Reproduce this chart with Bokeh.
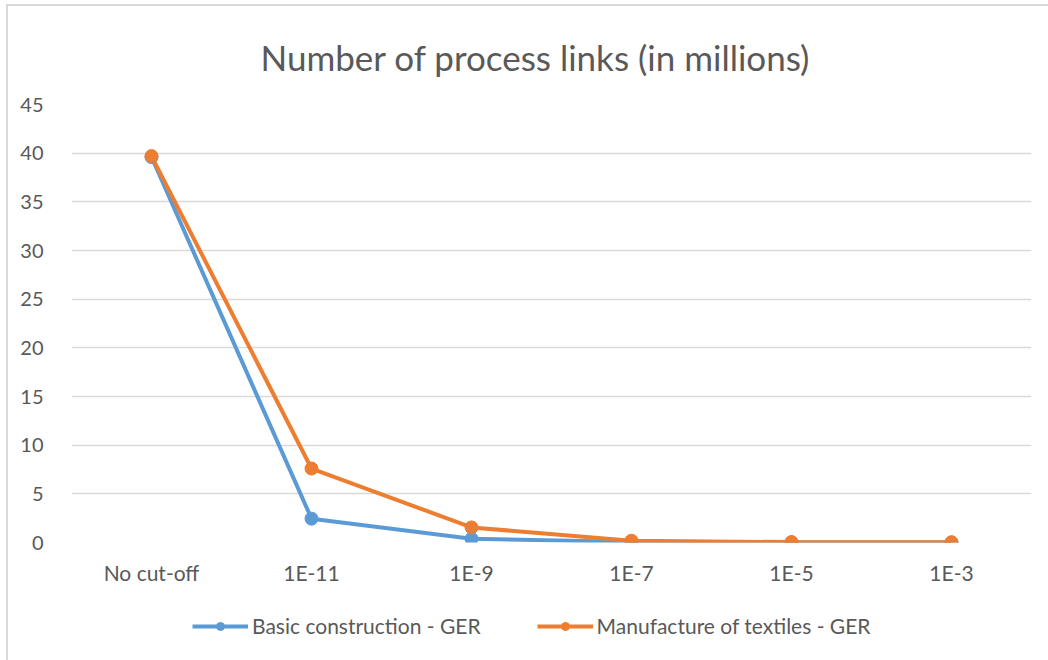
from bokeh.plotting import figure
from bokeh.layouts import column
from bokeh.models import Legend, LegendItem, FactorRange, Range1d
from bokeh.embed import file_html
from bokeh.resources import INLINE

# Cut-off thresholds and process link counts (millions)
categories = ["No cut-off", "1E-11", "1E-9", "1E-7", "1E-5", "1E-3"]
basic_construction = [39.6, 2.45, 0.38, 0.06, 0.02, 0.01]
textiles = [39.7, 7.6, 1.55, 0.18, 0.04, 0.02]
y_ticks = [0, 5, 10, 15, 20, 25, 30, 35, 40, 45]
series_names = ["Basic construction - GER", "Manufacture of textiles - GER"]

FONT = "Lato"
TEXT = "#595959"
GRID = "#d9d9d9"
BLUE = "#5b9bd5"
ORANGE = "#ed7d31"

p = figure(
    x_range=FactorRange(*categories, range_padding=0),
    y_range=Range1d(0, 45),
    width=1040, height=594,
    output_backend="svg", toolbar_location=None,
    min_border_left=63, min_border_right=17,
    min_border_top=98, min_border_bottom=58,
    title="Number of process links (in millions)",
)
p.outline_line_color = None
p.background_fill_color = "white"
p.border_fill_color = "white"

p.title.align = "left"
p.title.offset = 189
p.title.text_font = FONT
p.title.text_font_size = "35px"
p.title.text_font_style = "normal"
p.title.text_color = TEXT
p.title.standoff = 54

p.xgrid.grid_line_color = None
p.ygrid.grid_line_color = GRID
p.ygrid.grid_line_width = 1.3

p.yaxis.ticker = y_ticks
for ax in (p.xaxis[0], p.yaxis[0]):
    ax.axis_line_color = None
    ax.major_tick_line_color = None
    ax.minor_tick_line_color = None
    ax.major_label_text_font = FONT
    ax.major_label_text_color = TEXT
p.xaxis.major_label_text_font_size = "21px"
p.yaxis.major_label_text_font_size = "20px"
p.yaxis.major_label_standoff = 22
p.xaxis.major_label_standoff = 11

series = [(basic_construction, BLUE), (textiles, ORANGE)]
for values, color in series:
    p.line(categories, values, line_color=color, line_width=4)
    p.scatter(categories, values, size=13, fill_color=color, line_color=color)

# Legend strip under the chart; its y range sits above the data, so only
# the legend swatches of these renderers are visible
leg = figure(
    width=1040, height=60,
    x_range=FactorRange(*categories, range_padding=0), y_range=Range1d(50, 51),
    x_axis_type=None, y_axis_type=None,
    output_backend="svg", toolbar_location=None,
    min_border=0,
)
leg.outline_line_color = None
leg.xgrid.grid_line_color = None
leg.ygrid.grid_line_color = None

items = []
for name, (values, color) in zip(series_names, series):
    ln = leg.line(categories, values, line_color=color, line_width=4)
    mk = leg.scatter(categories, values, size=13, fill_color=color, line_color=color)
    items.append(LegendItem(label=name, renderers=[ln, mk]))

legend = Legend(
    items=items,
    orientation="horizontal",
    location=(121, 22),
    label_text_font=FONT,
    label_text_font_size="21px",
    label_text_color=TEXT,
    glyph_width=56,
    label_standoff=4,
    spacing=56,
    border_line_color=None,
    background_fill_alpha=0,
    margin=0,
    padding=0,
)
leg.add_layout(legend, "center")

layout = column(
    p, leg, spacing=0, margin=(4, 0, 0, 6),
    styles={"border-top": "2px solid #d9d9d9", "border-left": "2px solid #d9d9d9"},
)

open("out.html", "w").write(file_html(layout, INLINE))
